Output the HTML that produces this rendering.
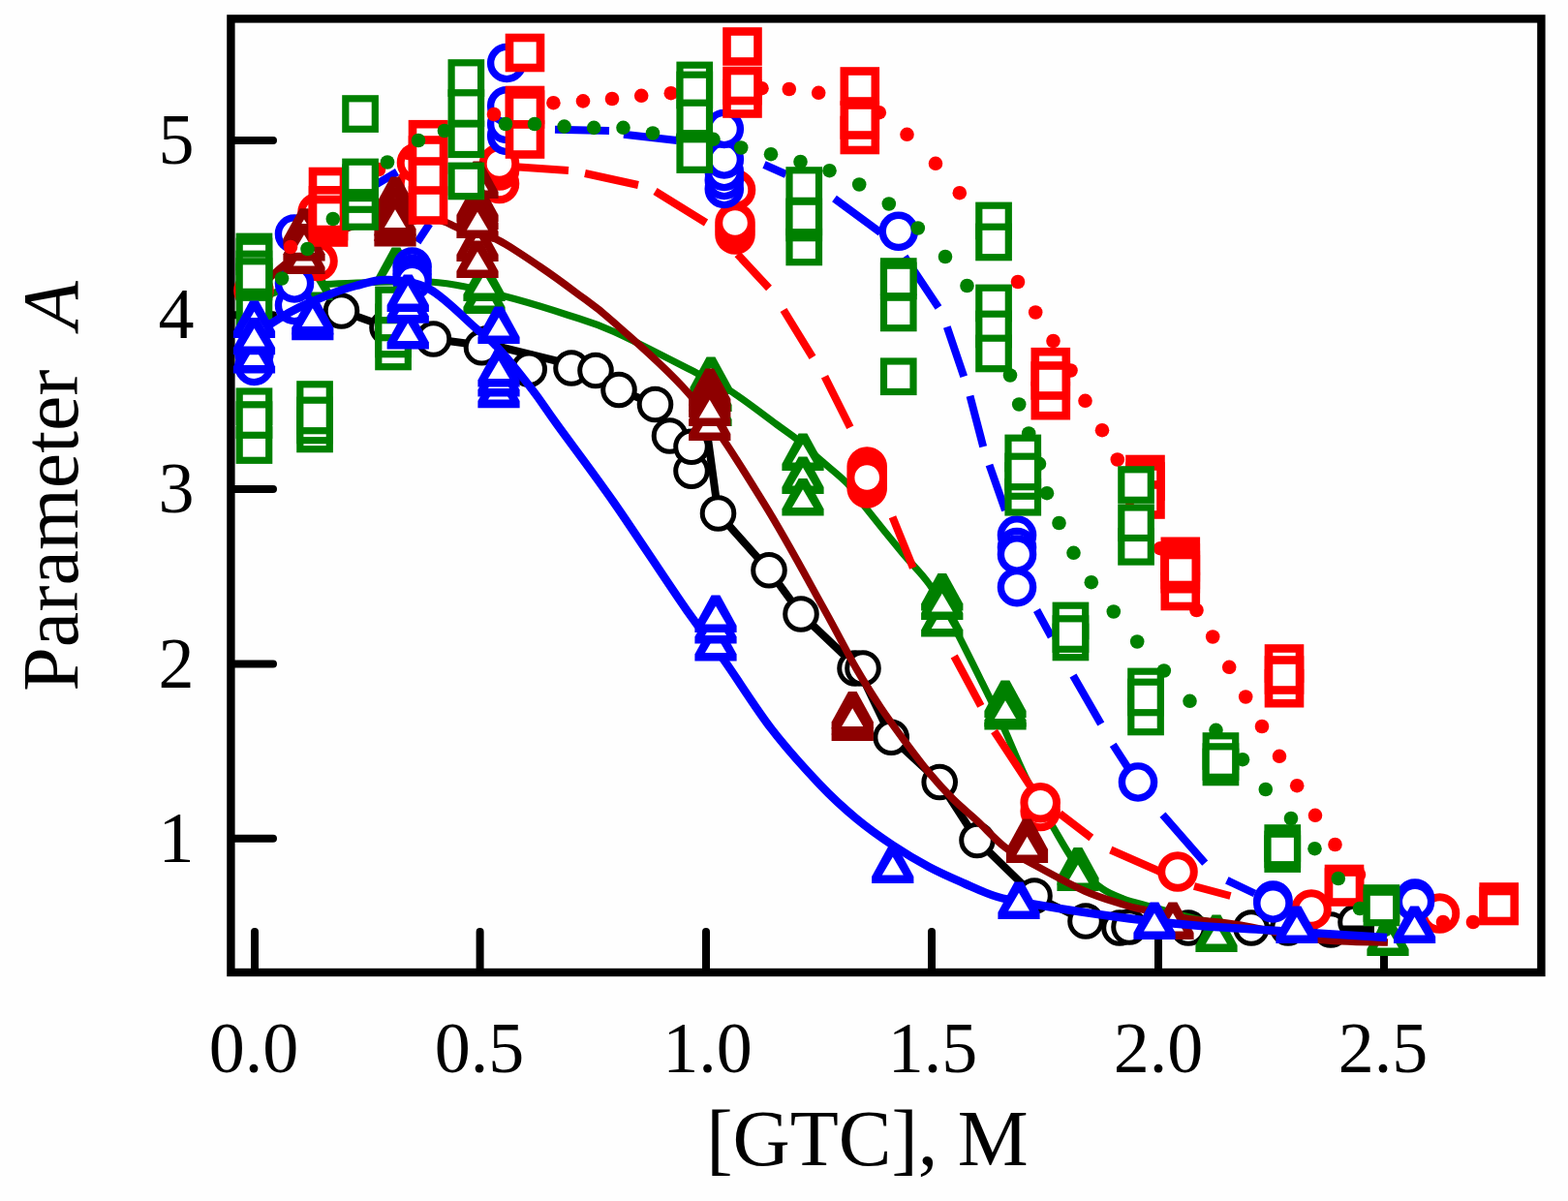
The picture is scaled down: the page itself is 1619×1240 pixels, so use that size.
<!DOCTYPE html>
<html lang="en">
<head>
<meta charset="utf-8">
<title>Parameter A vs [GTC]</title>
<style>
html,body{margin:0;padding:0;background:#fff;}
body{width:1619px;height:1240px;overflow:hidden;}
svg{display:block;}
text{font-family:"Liberation Serif","DejaVu Serif",serif;fill:#000;}
</style>
</head>
<body>
<svg width="1619" height="1240" viewBox="0 0 1619 1240">
<rect x="0" y="0" width="1619" height="1240" fill="#fefefe"/>
<g id="axes" fill="none" stroke="#000" stroke-width="8.4">
<rect x="238.4" y="19.4" width="1353" height="984.6"/>
<path d="M242 145H282M242 325.2H282M242 505H282M242 685.5H282M242 865.7H282M263 1004V962M495.6 1004V962M729 1004V962M962 1004V962M1196 1004V962M1429 1004V962" stroke-linecap="round" stroke-width="8"/>
</g>
<g id="s-black">
<polyline points="352.5,321 400,338 447.5,350 500,357 515,358 615,382.5 639,402.5 676.5,417.5 691.5,450 714,461 714,486 729.5,442 741.5,530 794,588.8 827,634 886,690 920.2,761.2 970.2,807.5 1009,867.5 1068,925 1121,951 1163,956 1227,958 1292,958 1374,960 1418,960" fill="none" stroke="#000000" stroke-width="8" stroke-linejoin="round"/>
<circle cx="352.5" cy="321" r="16.3" fill="#fff" stroke="#000000" stroke-width="5"/>
<circle cx="400" cy="338" r="16.3" fill="#fff" stroke="#000000" stroke-width="5"/>
<circle cx="447.5" cy="350" r="16.3" fill="#fff" stroke="#000000" stroke-width="5"/>
<circle cx="502" cy="355" r="16.3" fill="#fff" stroke="#000000" stroke-width="5"/>
<circle cx="497.5" cy="358.8" r="16.3" fill="#fff" stroke="#000000" stroke-width="5"/>
<circle cx="546.2" cy="381.2" r="16.3" fill="#fff" stroke="#000000" stroke-width="5"/>
<circle cx="590" cy="380" r="16.3" fill="#fff" stroke="#000000" stroke-width="5"/>
<circle cx="615" cy="382.5" r="16.3" fill="#fff" stroke="#000000" stroke-width="5"/>
<circle cx="639" cy="402.5" r="16.3" fill="#fff" stroke="#000000" stroke-width="5"/>
<circle cx="676.5" cy="417.5" r="16.3" fill="#fff" stroke="#000000" stroke-width="5"/>
<circle cx="691.5" cy="450" r="16.3" fill="#fff" stroke="#000000" stroke-width="5"/>
<circle cx="714" cy="486.2" r="16.3" fill="#fff" stroke="#000000" stroke-width="5"/>
<circle cx="714" cy="461.2" r="16.3" fill="#fff" stroke="#000000" stroke-width="5"/>
<circle cx="741.5" cy="530" r="16.3" fill="#fff" stroke="#000000" stroke-width="5"/>
<circle cx="794" cy="588.8" r="16.3" fill="#fff" stroke="#000000" stroke-width="5"/>
<circle cx="827" cy="634" r="16.3" fill="#fff" stroke="#000000" stroke-width="5"/>
<circle cx="883" cy="690" r="16.3" fill="#fff" stroke="#000000" stroke-width="5"/>
<circle cx="920.2" cy="761.2" r="16.3" fill="#fff" stroke="#000000" stroke-width="5"/>
<circle cx="970.2" cy="807.5" r="16.3" fill="#fff" stroke="#000000" stroke-width="5"/>
<circle cx="1009" cy="867.5" r="16.3" fill="#fff" stroke="#000000" stroke-width="5"/>
<circle cx="1068" cy="925" r="16.3" fill="#fff" stroke="#000000" stroke-width="5"/>
<circle cx="1121" cy="951" r="16.3" fill="#fff" stroke="#000000" stroke-width="5"/>
<circle cx="1156" cy="958" r="16.3" fill="#fff" stroke="#000000" stroke-width="5"/>
<circle cx="1227" cy="958" r="16.3" fill="#fff" stroke="#000000" stroke-width="5"/>
<circle cx="1292" cy="958" r="16.3" fill="#fff" stroke="#000000" stroke-width="5"/>
<circle cx="1330" cy="958" r="16.3" fill="#fff" stroke="#000000" stroke-width="5"/>
<circle cx="1374" cy="960" r="16.3" fill="#fff" stroke="#000000" stroke-width="5"/>
<circle cx="1400" cy="952" r="16.3" fill="#fff" stroke="#000000" stroke-width="5"/>
<circle cx="891" cy="690" r="16.3" fill="#fff" stroke="#000000" stroke-width="5"/>
<circle cx="1166" cy="957" r="16.3" fill="#fff" stroke="#000000" stroke-width="5"/>
<path d="M1386 959.5H1419" stroke="#000" stroke-width="8" fill="none"/>
</g>
<g id="s-greentri">
<path d="M263 312C267.5 310 278.8 303 290 300C301.2 297 310.8 295.5 330 294C349.2 292.5 386 291.5 405 291C424 290.5 431.2 290.2 443.8 291C456.2 291.8 465.3 293 480 296C494.7 299 514.2 303.9 532 308.8C549.8 313.7 570 319.9 587 325.5C604 331.1 612 332.6 634 342.5C656 352.4 699 374.8 719 385C739 395.2 740.2 394.7 754 403.5C767.8 412.3 789.6 429.2 801.6 438C813.6 446.8 818.2 449.7 826 456C833.8 462.3 840.2 468.8 848.4 476C856.6 483.2 867.6 491.5 875 499.3C882.4 507.1 883.5 511.1 892.9 523C902.3 534.9 920.5 557.4 931.5 570.6C942.5 583.9 950.2 590.1 959 602.5C967.8 614.9 973.2 624.6 984 645C994.8 665.4 1015 706.7 1024 725C1033 743.3 1032.2 742.1 1038 755C1043.8 767.9 1050.7 785.8 1059 802.5C1067.3 819.2 1079 839.6 1088 855C1097 870.4 1104.7 884.6 1113 895C1121.3 905.4 1130.2 912 1138 917.5C1145.8 923 1151.7 924.9 1160 928C1168.3 931.1 1173 932 1188 936C1203 940 1228 947.7 1250 952C1272 956.3 1289.5 958.7 1320 962C1350.5 965.3 1414.2 970.3 1433 972" fill="none" stroke="#008000" stroke-width="7.2" stroke-linecap="butt" stroke-linejoin="round"/>
<polygon points="300.4,310 343.6,310 343.6,302.9 326.4,271.6 317.6,271.6 300.4,302.9" fill="#008000"/><polygon points="311,301.4 333,301.4 322,282.8" fill="#fff"/>
<polygon points="387.4,294 430.6,294 430.6,286.9 413.4,255.6 404.6,255.6 387.4,286.9" fill="#008000"/><polygon points="398,285.4 420,285.4 409,266.8" fill="#fff"/>
<polygon points="478.4,324 521.6,324 521.6,316.9 504.4,285.6 495.6,285.6 478.4,316.9" fill="#008000"/><polygon points="489,315.4 511,315.4 500,296.8" fill="#fff"/>
<polygon points="478.4,311 521.6,311 521.6,303.9 504.4,272.6 495.6,272.6 478.4,303.9" fill="#008000"/><polygon points="489,302.4 511,302.4 500,283.8" fill="#fff"/>
<polygon points="712.4,407 755.6,407 755.6,399.9 738.4,368.6 729.6,368.6 712.4,399.9" fill="#008000"/><polygon points="723,398.4 745,398.4 734,379.8" fill="#fff"/>
<polygon points="712.4,425 755.6,425 755.6,417.9 738.4,386.6 729.6,386.6 712.4,417.9" fill="#008000"/><polygon points="723,416.4 745,416.4 734,397.8" fill="#fff"/>
<polygon points="712.4,440 755.6,440 755.6,432.9 738.4,401.6 729.6,401.6 712.4,432.9" fill="#008000"/><polygon points="723,431.4 745,431.4 734,412.8" fill="#fff"/>
<polygon points="807.4,486 850.6,486 850.6,478.9 833.4,447.6 824.6,447.6 807.4,478.9" fill="#008000"/><polygon points="818,477.4 840,477.4 829,458.8" fill="#fff"/>
<polygon points="807.4,510 850.6,510 850.6,502.9 833.4,471.6 824.6,471.6 807.4,502.9" fill="#008000"/><polygon points="818,501.4 840,501.4 829,482.8" fill="#fff"/>
<polygon points="807.4,532.5 850.6,532.5 850.6,525.4 833.4,494.1 824.6,494.1 807.4,525.4" fill="#008000"/><polygon points="818,523.9 840,523.9 829,505.3" fill="#fff"/>
<polygon points="951.1,657.5 994.4,657.5 994.4,650.4 977.1,619.1 968.4,619.1 951.1,650.4" fill="#008000"/><polygon points="961.8,648.9 983.8,648.9 972.8,630.3" fill="#fff"/>
<polygon points="951.1,630.5 994.4,630.5 994.4,623.4 977.1,592.1 968.4,592.1 951.1,623.4" fill="#008000"/><polygon points="961.8,621.9 983.8,621.9 972.8,603.3" fill="#fff"/>
<polygon points="951.1,640 994.4,640 994.4,632.9 977.1,601.6 968.4,601.6 951.1,632.9" fill="#008000"/><polygon points="961.8,631.4 983.8,631.4 972.8,612.8" fill="#fff"/>
<polygon points="1016.4,753.6 1059.6,753.6 1059.6,746.5 1042.4,715.2 1033.6,715.2 1016.4,746.5" fill="#008000"/><polygon points="1027,745 1049,745 1038,726.4" fill="#fff"/>
<polygon points="1016.4,741 1059.6,741 1059.6,733.9 1042.4,702.6 1033.6,702.6 1016.4,733.9" fill="#008000"/><polygon points="1027,732.4 1049,732.4 1038,713.8" fill="#fff"/>
<polygon points="1016.4,750.5 1059.6,750.5 1059.6,743.4 1042.4,712.1 1033.6,712.1 1016.4,743.4" fill="#008000"/><polygon points="1027,741.9 1049,741.9 1038,723.3" fill="#fff"/>
<polygon points="1091.4,913.5 1134.6,913.5 1134.6,906.4 1117.4,875.1 1108.6,875.1 1091.4,906.4" fill="#008000"/><polygon points="1102,904.9 1124,904.9 1113,886.3" fill="#fff"/>
<polygon points="1091.4,920 1134.6,920 1134.6,912.9 1117.4,881.6 1108.6,881.6 1091.4,912.9" fill="#008000"/><polygon points="1102,911.4 1124,911.4 1113,892.8" fill="#fff"/>
<polygon points="1234.4,983 1277.6,983 1277.6,975.9 1260.4,944.6 1251.6,944.6 1234.4,975.9" fill="#008000"/><polygon points="1245,974.4 1267,974.4 1256,955.8" fill="#fff"/>
<polygon points="1411.4,987 1454.6,987 1454.6,979.9 1437.4,948.6 1428.6,948.6 1411.4,979.9" fill="#008000"/><polygon points="1422,978.4 1444,978.4 1433,959.8" fill="#fff"/>
</g>
<g id="s-redcirc">
<path d="M535.8 172.5L587 176M604 179L659 191M676.5 197.5L729 230M761.5 262.5L794 297.5M809 320L839 368.8M851.5 388.8L877.8 441.2M921.5 533.8L942.8 586.2M985.2 677.5L1012.8 728.8M1026.5 755L1068 818M1094.2 840L1126.8 865M1146.8 877.5L1198 900M1233 915L1270.5 925" fill="none" stroke="#ff0000" stroke-width="8" stroke-linecap="butt"/>
<circle cx="262" cy="300" r="16.8" fill="#fff" stroke="#ff0000" stroke-width="8"/>
<circle cx="328" cy="219.5" r="16.8" fill="#fff" stroke="#ff0000" stroke-width="8"/>
<circle cx="328" cy="269.5" r="16.8" fill="#fff" stroke="#ff0000" stroke-width="8"/>
<circle cx="430.5" cy="190" r="16.8" fill="#fff" stroke="#ff0000" stroke-width="8"/>
<circle cx="430.5" cy="168" r="16.8" fill="#fff" stroke="#ff0000" stroke-width="8"/>
<circle cx="515.5" cy="189.5" r="16.8" fill="#fff" stroke="#ff0000" stroke-width="8"/>
<circle cx="515.5" cy="176" r="16.8" fill="#fff" stroke="#ff0000" stroke-width="8"/>
<circle cx="515.5" cy="169" r="16.8" fill="#fff" stroke="#ff0000" stroke-width="8"/>
<circle cx="759.5" cy="196" r="16.8" fill="#fff" stroke="#ff0000" stroke-width="8"/>
<circle cx="759" cy="242" r="16.8" fill="#fff" stroke="#ff0000" stroke-width="8"/>
<circle cx="759" cy="236" r="16.8" fill="#fff" stroke="#ff0000" stroke-width="8"/>
<circle cx="759" cy="230" r="16.8" fill="#fff" stroke="#ff0000" stroke-width="8"/>
<circle cx="895.2" cy="482" r="16.8" fill="#fff" stroke="#ff0000" stroke-width="8"/>
<circle cx="895.2" cy="504" r="16.8" fill="#fff" stroke="#ff0000" stroke-width="8"/>
<circle cx="895.2" cy="487.5" r="16.8" fill="#fff" stroke="#ff0000" stroke-width="8"/>
<circle cx="895.2" cy="498.5" r="16.8" fill="#fff" stroke="#ff0000" stroke-width="8"/>
<circle cx="895.2" cy="493" r="16.8" fill="#fff" stroke="#ff0000" stroke-width="8"/>
<circle cx="1074.2" cy="837.5" r="16.8" fill="#fff" stroke="#ff0000" stroke-width="8"/>
<circle cx="1074.2" cy="828.8" r="16.8" fill="#fff" stroke="#ff0000" stroke-width="8"/>
<circle cx="1216" cy="900" r="16.8" fill="#fff" stroke="#ff0000" stroke-width="8"/>
<circle cx="1354" cy="939" r="16.8" fill="#fff" stroke="#ff0000" stroke-width="8"/>
<circle cx="1486.5" cy="943" r="16.8" fill="#fff" stroke="#ff0000" stroke-width="8"/>
</g>
<g id="s-bluecirc">
<path d="M389 190L410 177.5M431 250L443.5 231M573 133.8L629 135M644 138.8L699 145M789 170L811.5 180M861.5 205L909 240M934 265L969 317.5M977.8 337.5L995.2 388.8M1001.5 408.8L1015.2 461.2M1021.5 480L1038 527M1070.5 630L1085.5 657.5M1108 697.5L1136.8 747.5M1149.2 768.8L1170 801M1200.5 841.2L1244.2 891.2M1266.8 908.8L1295.5 922.5" fill="none" stroke="#0000ff" stroke-width="8" stroke-linecap="butt"/>
<circle cx="262.5" cy="365" r="16.6" fill="#fff" stroke="#0000ff" stroke-width="7.4"/>
<circle cx="262.5" cy="378" r="16.6" fill="#fff" stroke="#0000ff" stroke-width="7.4"/>
<circle cx="304" cy="315" r="16.6" fill="#fff" stroke="#0000ff" stroke-width="7.4"/>
<circle cx="304" cy="241.5" r="16.6" fill="#fff" stroke="#0000ff" stroke-width="7.4"/>
<circle cx="304" cy="292.5" r="16.6" fill="#fff" stroke="#0000ff" stroke-width="7.4"/>
<circle cx="425.6" cy="275.6" r="16.6" fill="#fff" stroke="#0000ff" stroke-width="7.4"/>
<circle cx="425.6" cy="283" r="16.6" fill="#fff" stroke="#0000ff" stroke-width="7.4"/>
<circle cx="425.6" cy="290" r="16.6" fill="#fff" stroke="#0000ff" stroke-width="7.4"/>
<circle cx="523.2" cy="140" r="16.6" fill="#fff" stroke="#0000ff" stroke-width="7.4"/>
<circle cx="523.2" cy="128" r="16.6" fill="#fff" stroke="#0000ff" stroke-width="7.4"/>
<circle cx="523.2" cy="109.4" r="16.6" fill="#fff" stroke="#0000ff" stroke-width="7.4"/>
<circle cx="523.2" cy="65" r="16.6" fill="#fff" stroke="#0000ff" stroke-width="7.4"/>
<circle cx="747.8" cy="195" r="16.6" fill="#fff" stroke="#0000ff" stroke-width="7.4"/>
<circle cx="747.8" cy="186" r="16.6" fill="#fff" stroke="#0000ff" stroke-width="7.4"/>
<circle cx="747.8" cy="177" r="16.6" fill="#fff" stroke="#0000ff" stroke-width="7.4"/>
<circle cx="747.8" cy="164.5" r="16.6" fill="#fff" stroke="#0000ff" stroke-width="7.4"/>
<circle cx="747.8" cy="133" r="16.6" fill="#fff" stroke="#0000ff" stroke-width="7.4"/>
<circle cx="927.8" cy="238.8" r="16.6" fill="#fff" stroke="#0000ff" stroke-width="7.4"/>
<circle cx="1050" cy="552.5" r="16.6" fill="#fff" stroke="#0000ff" stroke-width="7.4"/>
<circle cx="1050" cy="565" r="16.6" fill="#fff" stroke="#0000ff" stroke-width="7.4"/>
<circle cx="1050" cy="606.2" r="16.6" fill="#fff" stroke="#0000ff" stroke-width="7.4"/>
<circle cx="1050" cy="572.5" r="16.6" fill="#fff" stroke="#0000ff" stroke-width="7.4"/>
<circle cx="1175" cy="807.5" r="16.6" fill="#fff" stroke="#0000ff" stroke-width="7.4"/>
<circle cx="1314.4" cy="929.5" r="16.6" fill="#fff" stroke="#0000ff" stroke-width="7.4"/>
<circle cx="1314.4" cy="932.5" r="16.6" fill="#fff" stroke="#0000ff" stroke-width="7.4"/>
<circle cx="1461" cy="927.5" r="16.6" fill="#fff" stroke="#0000ff" stroke-width="7.4"/>
<circle cx="1461" cy="931" r="16.6" fill="#fff" stroke="#0000ff" stroke-width="7.4"/>
</g>
<g id="s-dredtri">
<path d="M263 303C267.2 298.8 279.5 285.5 288 278C296.5 270.5 305.3 263.8 314 258C322.7 252.2 330.3 247.5 340 243C349.7 238.5 360.7 234.2 372 231C383.3 227.8 396.3 225.2 408 224C419.7 222.8 433.5 223.2 442 224C450.5 224.8 454 227.2 459 229C464 230.8 466.3 232.7 472 235C477.7 237.3 485.9 240.8 493 243C500.1 245.2 503.8 242.7 514.5 248C525.2 253.3 543.7 266 557 275C570.3 284 581.7 292.3 594.5 302C607.3 311.7 613.7 314.6 634 333C654.3 351.4 690.7 381.3 716.5 412.5C742.3 443.7 766.5 483.8 789 520C811.5 556.2 835.7 601.7 851.5 630C867.3 658.3 874.4 673.3 884 690C893.6 706.7 900.7 717.5 909 730C917.3 742.5 925.7 753.8 934 765C942.3 776.2 950.7 787.5 959 797.5C967.3 807.5 975.7 816.7 984 825C992.3 833.3 1000 839.2 1009 847.5C1018 855.8 1027.8 867.2 1038 875C1048.2 882.8 1056.3 886.5 1070 894C1083.7 901.5 1105 913.3 1120 920C1135 926.7 1150 930.8 1160 934C1170 937.2 1168.3 936.5 1180 939C1191.7 941.5 1213.3 946.3 1230 949C1246.7 951.7 1258.3 951.5 1280 955C1301.7 958.5 1334.5 967 1360 970C1385.5 973 1420.8 972.5 1433 973" fill="none" stroke="#8e0000" stroke-width="7.6" stroke-linecap="butt" stroke-linejoin="round"/>
<polygon points="292.4,283 335.6,283 335.6,275.9 318.4,244.6 309.6,244.6 292.4,275.9" fill="#8e0000"/><polygon points="303,274.4 325,274.4 314,255.8" fill="#fff"/>
<polygon points="292.4,253.7 335.6,253.7 335.6,246.6 318.4,215.3 309.6,215.3 292.4,246.6" fill="#8e0000"/><polygon points="303,245.1 325,245.1 314,226.5" fill="#fff"/>
<polygon points="292.4,269.4 335.6,269.4 335.6,262.3 318.4,231 309.6,231 292.4,262.3" fill="#8e0000"/><polygon points="303,260.8 325,260.8 314,242.2" fill="#fff"/>
<polygon points="386.4,221 429.6,221 429.6,213.9 412.4,182.6 403.6,182.6 386.4,213.9" fill="#8e0000"/><polygon points="397,212.4 419,212.4 408,193.8" fill="#fff"/>
<polygon points="386.4,232 429.6,232 429.6,224.9 412.4,193.6 403.6,193.6 386.4,224.9" fill="#8e0000"/><polygon points="397,223.4 419,223.4 408,204.8" fill="#fff"/>
<polygon points="386.4,254.5 429.6,254.5 429.6,247.4 412.4,216.1 403.6,216.1 386.4,247.4" fill="#8e0000"/><polygon points="397,245.9 419,245.9 408,227.3" fill="#fff"/>
<polygon points="386.4,249 429.6,249 429.6,241.9 412.4,210.6 403.6,210.6 386.4,241.9" fill="#8e0000"/><polygon points="397,240.4 419,240.4 408,221.8" fill="#fff"/>
<polygon points="386.4,243.5 429.6,243.5 429.6,236.4 412.4,205.1 403.6,205.1 386.4,236.4" fill="#8e0000"/><polygon points="397,234.9 419,234.9 408,216.3" fill="#fff"/>
<polygon points="471.4,205 514.6,205 514.6,197.9 497.4,166.6 488.6,166.6 471.4,197.9" fill="#8e0000"/><polygon points="482,196.4 504,196.4 493,177.8" fill="#fff"/>
<polygon points="471.4,270 514.6,270 514.6,262.9 497.4,231.6 488.6,231.6 471.4,262.9" fill="#8e0000"/><polygon points="482,261.4 504,261.4 493,242.8" fill="#fff"/>
<polygon points="471.4,287 514.6,287 514.6,279.9 497.4,248.6 488.6,248.6 471.4,279.9" fill="#8e0000"/><polygon points="482,278.4 504,278.4 493,259.8" fill="#fff"/>
<polygon points="471.4,229 514.6,229 514.6,221.9 497.4,190.6 488.6,190.6 471.4,221.9" fill="#8e0000"/><polygon points="482,220.4 504,220.4 493,201.8" fill="#fff"/>
<polygon points="471.4,237 514.6,237 514.6,229.9 497.4,198.6 488.6,198.6 471.4,229.9" fill="#8e0000"/><polygon points="482,228.4 504,228.4 493,209.8" fill="#fff"/>
<polygon points="471.4,246 514.6,246 514.6,238.9 497.4,207.6 488.6,207.6 471.4,238.9" fill="#8e0000"/><polygon points="482,237.4 504,237.4 493,218.8" fill="#fff"/>
<polygon points="711.1,419 754.4,419 754.4,411.9 737.1,380.6 728.4,380.6 711.1,411.9" fill="#8e0000"/><polygon points="721.8,410.4 743.8,410.4 732.8,391.8" fill="#fff"/>
<polygon points="711.1,425 754.4,425 754.4,417.9 737.1,386.6 728.4,386.6 711.1,417.9" fill="#8e0000"/><polygon points="721.8,416.4 743.8,416.4 732.8,397.8" fill="#fff"/>
<polygon points="711.1,431 754.4,431 754.4,423.9 737.1,392.6 728.4,392.6 711.1,423.9" fill="#8e0000"/><polygon points="721.8,422.4 743.8,422.4 732.8,403.8" fill="#fff"/>
<polygon points="711.1,455 754.4,455 754.4,447.9 737.1,416.6 728.4,416.6 711.1,447.9" fill="#8e0000"/><polygon points="721.8,446.4 743.8,446.4 732.8,427.8" fill="#fff"/>
<polygon points="711.1,440 754.4,440 754.4,432.9 737.1,401.6 728.4,401.6 711.1,432.9" fill="#8e0000"/><polygon points="721.8,431.4 743.8,431.4 732.8,412.8" fill="#fff"/>
<polygon points="858.6,752.5 901.9,752.5 901.9,745.4 884.6,714.1 875.9,714.1 858.6,745.4" fill="#8e0000"/><polygon points="869.2,743.9 891.2,743.9 880.2,725.3" fill="#fff"/>
<polygon points="858.6,765 901.9,765 901.9,757.9 884.6,726.6 875.9,726.6 858.6,757.9" fill="#8e0000"/><polygon points="869.2,756.4 891.2,756.4 880.2,737.8" fill="#fff"/>
<polygon points="858.6,758.5 901.9,758.5 901.9,751.4 884.6,720.1 875.9,720.1 858.6,751.4" fill="#8e0000"/><polygon points="869.2,749.9 891.2,749.9 880.2,731.3" fill="#fff"/>
<polygon points="1038.9,884 1082.1,884 1082.1,876.9 1064.9,845.6 1056.1,845.6 1038.9,876.9" fill="#8e0000"/><polygon points="1049.5,875.4 1071.5,875.4 1060.5,856.8" fill="#fff"/>
<polygon points="1038.9,891 1082.1,891 1082.1,883.9 1064.9,852.6 1056.1,852.6 1038.9,883.9" fill="#8e0000"/><polygon points="1049.5,882.4 1071.5,882.4 1060.5,863.8" fill="#fff"/>
<polygon points="1189.4,970 1232.6,970 1232.6,962.9 1215.4,931.6 1206.6,931.6 1189.4,962.9" fill="#8e0000"/><polygon points="1200,961.4 1222,961.4 1211,942.8" fill="#fff"/>
</g>
<g id="s-redsq">
<circle cx="300" cy="255" r="7.3" fill="#ff0000"/>
<circle cx="330" cy="224.5" r="7.3" fill="#ff0000"/>
<circle cx="360.5" cy="197" r="7.3" fill="#ff0000"/>
<circle cx="391" cy="175" r="7.3" fill="#ff0000"/>
<circle cx="421.5" cy="158" r="7.3" fill="#ff0000"/>
<circle cx="452" cy="142" r="7.3" fill="#ff0000"/>
<circle cx="482.5" cy="128" r="7.3" fill="#ff0000"/>
<circle cx="510" cy="118" r="7.3" fill="#ff0000"/>
<circle cx="540.6" cy="112" r="7.3" fill="#ff0000"/>
<circle cx="571.4" cy="106.2" r="7.3" fill="#ff0000"/>
<circle cx="602" cy="104.4" r="7.3" fill="#ff0000"/>
<circle cx="632" cy="102" r="7.3" fill="#ff0000"/>
<circle cx="662.2" cy="98.8" r="7.3" fill="#ff0000"/>
<circle cx="692.8" cy="96.2" r="7.3" fill="#ff0000"/>
<circle cx="723" cy="94" r="7.3" fill="#ff0000"/>
<circle cx="754" cy="92" r="7.3" fill="#ff0000"/>
<circle cx="786.5" cy="91.2" r="7.3" fill="#ff0000"/>
<circle cx="814.8" cy="92" r="7.3" fill="#ff0000"/>
<circle cx="845.2" cy="95.8" r="7.3" fill="#ff0000"/>
<circle cx="876" cy="103" r="7.3" fill="#ff0000"/>
<circle cx="907.8" cy="116.2" r="7.3" fill="#ff0000"/>
<circle cx="936.5" cy="138.8" r="7.3" fill="#ff0000"/>
<circle cx="966" cy="168.8" r="7.3" fill="#ff0000"/>
<circle cx="990.8" cy="199.2" r="7.3" fill="#ff0000"/>
<circle cx="1016" cy="230" r="7.3" fill="#ff0000"/>
<circle cx="1034" cy="260.5" r="7.3" fill="#ff0000"/>
<circle cx="1051" cy="291" r="7.3" fill="#ff0000"/>
<circle cx="1069.2" cy="322.5" r="7.3" fill="#ff0000"/>
<circle cx="1087.5" cy="352" r="7.3" fill="#ff0000"/>
<circle cx="1105.5" cy="382.5" r="7.3" fill="#ff0000"/>
<circle cx="1120.5" cy="413.8" r="7.3" fill="#ff0000"/>
<circle cx="1138" cy="444.2" r="7.3" fill="#ff0000"/>
<circle cx="1153.8" cy="474.5" r="7.3" fill="#ff0000"/>
<circle cx="1168" cy="505" r="7.3" fill="#ff0000"/>
<circle cx="1183" cy="535.5" r="7.3" fill="#ff0000"/>
<circle cx="1198" cy="566.2" r="7.3" fill="#ff0000"/>
<circle cx="1216" cy="597" r="7.3" fill="#ff0000"/>
<circle cx="1235.5" cy="630" r="7.3" fill="#ff0000"/>
<circle cx="1252.2" cy="657.5" r="7.3" fill="#ff0000"/>
<circle cx="1269.2" cy="688.8" r="7.3" fill="#ff0000"/>
<circle cx="1286.2" cy="719.5" r="7.3" fill="#ff0000"/>
<circle cx="1303" cy="750" r="7.3" fill="#ff0000"/>
<circle cx="1321" cy="780.8" r="7.3" fill="#ff0000"/>
<circle cx="1339.2" cy="811.2" r="7.3" fill="#ff0000"/>
<circle cx="1358" cy="841.8" r="7.3" fill="#ff0000"/>
<circle cx="1378.5" cy="872" r="7.3" fill="#ff0000"/>
<circle cx="1403" cy="903" r="7.3" fill="#ff0000"/>
<circle cx="1431" cy="930" r="7.3" fill="#ff0000"/>
<circle cx="1461" cy="945" r="7.3" fill="#ff0000"/>
<circle cx="1490" cy="952" r="7.3" fill="#ff0000"/>
<circle cx="1521" cy="952" r="7.3" fill="#ff0000"/>
<rect x="323" y="177" width="32" height="31" fill="#fff" stroke="#ff0000" stroke-width="8.6"/>
<rect x="323" y="196.3" width="32" height="31" fill="#fff" stroke="#ff0000" stroke-width="8.6"/>
<rect x="323" y="219.5" width="32" height="31" fill="#fff" stroke="#ff0000" stroke-width="8.6"/>
<rect x="323" y="213.1" width="32" height="31" fill="#fff" stroke="#ff0000" stroke-width="8.6"/>
<rect x="323" y="206" width="32" height="31" fill="#fff" stroke="#ff0000" stroke-width="8.6"/>
<rect x="426" y="128.2" width="32" height="31" fill="#fff" stroke="#ff0000" stroke-width="8.6"/>
<rect x="426" y="144.5" width="32" height="31" fill="#fff" stroke="#ff0000" stroke-width="8.6"/>
<rect x="426" y="166.5" width="32" height="31" fill="#fff" stroke="#ff0000" stroke-width="8.6"/>
<rect x="426" y="196.5" width="32" height="31" fill="#fff" stroke="#ff0000" stroke-width="8.6"/>
<rect x="526" y="39" width="32" height="31" fill="#fff" stroke="#ff0000" stroke-width="8.6"/>
<rect x="526" y="93" width="32" height="31" fill="#fff" stroke="#ff0000" stroke-width="8.6"/>
<rect x="526" y="97.5" width="32" height="31" fill="#fff" stroke="#ff0000" stroke-width="8.6"/>
<rect x="526" y="128.5" width="32" height="31" fill="#fff" stroke="#ff0000" stroke-width="8.6"/>
<rect x="750.5" y="32.5" width="32" height="31" fill="#fff" stroke="#ff0000" stroke-width="8.6"/>
<rect x="750.5" y="86.5" width="32" height="31" fill="#fff" stroke="#ff0000" stroke-width="8.6"/>
<rect x="750.5" y="73" width="32" height="31" fill="#fff" stroke="#ff0000" stroke-width="8.6"/>
<rect x="871.8" y="73.5" width="32" height="31" fill="#fff" stroke="#ff0000" stroke-width="8.6"/>
<rect x="871.8" y="124" width="32" height="31" fill="#fff" stroke="#ff0000" stroke-width="8.6"/>
<rect x="871.8" y="108.5" width="32" height="31" fill="#fff" stroke="#ff0000" stroke-width="8.6"/>
<rect x="1068.8" y="363.2" width="32" height="31" fill="#fff" stroke="#ff0000" stroke-width="8.6"/>
<rect x="1068.8" y="398.2" width="32" height="31" fill="#fff" stroke="#ff0000" stroke-width="8.6"/>
<rect x="1068.8" y="377.5" width="32" height="31" fill="#fff" stroke="#ff0000" stroke-width="8.6"/>
<rect x="1166.5" y="474" width="32" height="31" fill="#fff" stroke="#ff0000" stroke-width="8.6"/>
<rect x="1166.5" y="481.5" width="32" height="31" fill="#fff" stroke="#ff0000" stroke-width="8.6"/>
<rect x="1166.5" y="500.5" width="32" height="31" fill="#fff" stroke="#ff0000" stroke-width="8.6"/>
<rect x="1202.8" y="558.8" width="32" height="31" fill="#fff" stroke="#ff0000" stroke-width="8.6"/>
<rect x="1202.8" y="565.5" width="32" height="31" fill="#fff" stroke="#ff0000" stroke-width="8.6"/>
<rect x="1202.8" y="595" width="32" height="31" fill="#fff" stroke="#ff0000" stroke-width="8.6"/>
<rect x="1202.8" y="577.2" width="32" height="31" fill="#fff" stroke="#ff0000" stroke-width="8.6"/>
<rect x="1202.8" y="573" width="32" height="31" fill="#fff" stroke="#ff0000" stroke-width="8.6"/>
<rect x="1310" y="669.5" width="32" height="31" fill="#fff" stroke="#ff0000" stroke-width="8.6"/>
<rect x="1310" y="695.2" width="32" height="31" fill="#fff" stroke="#ff0000" stroke-width="8.6"/>
<rect x="1310" y="681.5" width="32" height="31" fill="#fff" stroke="#ff0000" stroke-width="8.6"/>
<rect x="1372" y="897" width="32" height="31" fill="#fff" stroke="#ff0000" stroke-width="8.6"/>
<rect x="1372" y="900.5" width="32" height="31" fill="#fff" stroke="#ff0000" stroke-width="8.6"/>
<rect x="1531.7" y="915.5" width="32" height="31" fill="#fff" stroke="#ff0000" stroke-width="8.6"/>
<rect x="1531.7" y="920" width="32" height="31" fill="#fff" stroke="#ff0000" stroke-width="8.6"/>
</g>
<g id="s-greensq">
<circle cx="265" cy="318" r="7.3" fill="#008000"/>
<circle cx="291" cy="287.5" r="7.3" fill="#008000"/>
<circle cx="317.5" cy="257" r="7.3" fill="#008000"/>
<circle cx="343.8" cy="226" r="7.3" fill="#008000"/>
<circle cx="372" cy="195.5" r="7.3" fill="#008000"/>
<circle cx="400" cy="167.5" r="7.3" fill="#008000"/>
<circle cx="432" cy="145" r="7.3" fill="#008000"/>
<circle cx="458.9" cy="135" r="7.3" fill="#008000"/>
<circle cx="490" cy="131" r="7.3" fill="#008000"/>
<circle cx="522" cy="128" r="7.3" fill="#008000"/>
<circle cx="552" cy="128" r="7.3" fill="#008000"/>
<circle cx="582.6" cy="130.6" r="7.3" fill="#008000"/>
<circle cx="613.2" cy="131.9" r="7.3" fill="#008000"/>
<circle cx="643.5" cy="131.8" r="7.3" fill="#008000"/>
<circle cx="674" cy="137.5" r="7.3" fill="#008000"/>
<circle cx="705" cy="141" r="7.3" fill="#008000"/>
<circle cx="736.5" cy="143.8" r="7.3" fill="#008000"/>
<circle cx="765.2" cy="152.5" r="7.3" fill="#008000"/>
<circle cx="796" cy="159.2" r="7.3" fill="#008000"/>
<circle cx="826.5" cy="167" r="7.3" fill="#008000"/>
<circle cx="856.5" cy="176.2" r="7.3" fill="#008000"/>
<circle cx="887.2" cy="190.5" r="7.3" fill="#008000"/>
<circle cx="917.8" cy="210.5" r="7.3" fill="#008000"/>
<circle cx="947.8" cy="235.5" r="7.3" fill="#008000"/>
<circle cx="976" cy="265" r="7.3" fill="#008000"/>
<circle cx="998.5" cy="295" r="7.3" fill="#008000"/>
<circle cx="1016" cy="326" r="7.3" fill="#008000"/>
<circle cx="1031" cy="356.5" r="7.3" fill="#008000"/>
<circle cx="1043" cy="387.5" r="7.3" fill="#008000"/>
<circle cx="1052.2" cy="417.5" r="7.3" fill="#008000"/>
<circle cx="1062.2" cy="447.5" r="7.3" fill="#008000"/>
<circle cx="1073" cy="478.8" r="7.3" fill="#008000"/>
<circle cx="1081" cy="509.2" r="7.3" fill="#008000"/>
<circle cx="1093.5" cy="540" r="7.3" fill="#008000"/>
<circle cx="1108.5" cy="570.8" r="7.3" fill="#008000"/>
<circle cx="1126.8" cy="601.2" r="7.3" fill="#008000"/>
<circle cx="1149.8" cy="631.5" r="7.3" fill="#008000"/>
<circle cx="1174.2" cy="662.5" r="7.3" fill="#008000"/>
<circle cx="1201.8" cy="692.5" r="7.3" fill="#008000"/>
<circle cx="1228.5" cy="723.8" r="7.3" fill="#008000"/>
<circle cx="1255.5" cy="753.8" r="7.3" fill="#008000"/>
<circle cx="1283" cy="784.2" r="7.3" fill="#008000"/>
<circle cx="1306.8" cy="815" r="7.3" fill="#008000"/>
<circle cx="1333" cy="845" r="7.3" fill="#008000"/>
<circle cx="1357.5" cy="876.2" r="7.3" fill="#008000"/>
<circle cx="1381.8" cy="907" r="7.3" fill="#008000"/>
<circle cx="1404" cy="938" r="7.3" fill="#008000"/>
<circle cx="1430" cy="960" r="7.3" fill="#008000"/>
<rect x="247.2" y="244.2" width="30.5" height="31.5" fill="#fff" stroke="#008000" stroke-width="7.2"/>
<rect x="247.2" y="249.2" width="30.5" height="31.5" fill="#fff" stroke="#008000" stroke-width="7.2"/>
<rect x="247.2" y="262.2" width="30.5" height="31.5" fill="#fff" stroke="#008000" stroke-width="7.2"/>
<rect x="247.2" y="307.2" width="30.5" height="31.5" fill="#fff" stroke="#008000" stroke-width="7.2"/>
<rect x="247.2" y="275.2" width="30.5" height="31.5" fill="#fff" stroke="#008000" stroke-width="7.2"/>
<rect x="247.2" y="269.8" width="30.5" height="31.5" fill="#fff" stroke="#008000" stroke-width="7.2"/>
<rect x="247.2" y="404" width="30.5" height="31.5" fill="#fff" stroke="#008000" stroke-width="7.2"/>
<rect x="247.2" y="443.8" width="30.5" height="31.5" fill="#fff" stroke="#008000" stroke-width="7.2"/>
<rect x="247.2" y="417.8" width="30.5" height="31.5" fill="#fff" stroke="#008000" stroke-width="7.2"/>
<rect x="309.8" y="396.8" width="30.5" height="31.5" fill="#fff" stroke="#008000" stroke-width="7.2"/>
<rect x="309.8" y="432.2" width="30.5" height="31.5" fill="#fff" stroke="#008000" stroke-width="7.2"/>
<rect x="309.8" y="423.2" width="30.5" height="31.5" fill="#fff" stroke="#008000" stroke-width="7.2"/>
<rect x="309.8" y="413.2" width="30.5" height="31.5" fill="#fff" stroke="#008000" stroke-width="7.2"/>
<rect x="356.8" y="101.8" width="30.5" height="31.5" fill="#fff" stroke="#008000" stroke-width="7.2"/>
<rect x="356.8" y="202.7" width="30.5" height="31.5" fill="#fff" stroke="#008000" stroke-width="7.2"/>
<rect x="356.8" y="184.8" width="30.5" height="31.5" fill="#fff" stroke="#008000" stroke-width="7.2"/>
<rect x="356.8" y="173.1" width="30.5" height="31.5" fill="#fff" stroke="#008000" stroke-width="7.2"/>
<rect x="356.8" y="167.2" width="30.5" height="31.5" fill="#fff" stroke="#008000" stroke-width="7.2"/>
<rect x="390.8" y="347.2" width="30.5" height="31.5" fill="#fff" stroke="#008000" stroke-width="7.2"/>
<rect x="390.8" y="334.2" width="30.5" height="31.5" fill="#fff" stroke="#008000" stroke-width="7.2"/>
<rect x="390.8" y="317.2" width="30.5" height="31.5" fill="#fff" stroke="#008000" stroke-width="7.2"/>
<rect x="390.8" y="299.2" width="30.5" height="31.5" fill="#fff" stroke="#008000" stroke-width="7.2"/>
<rect x="466.1" y="64.8" width="30.5" height="31.5" fill="#fff" stroke="#008000" stroke-width="7.2"/>
<rect x="466.1" y="95.8" width="30.5" height="31.5" fill="#fff" stroke="#008000" stroke-width="7.2"/>
<rect x="466.1" y="128" width="30.5" height="31.5" fill="#fff" stroke="#008000" stroke-width="7.2"/>
<rect x="466.1" y="171.2" width="30.5" height="31.5" fill="#fff" stroke="#008000" stroke-width="7.2"/>
<rect x="702" y="67.2" width="30.5" height="31.5" fill="#fff" stroke="#008000" stroke-width="7.2"/>
<rect x="702" y="77.2" width="30.5" height="31.5" fill="#fff" stroke="#008000" stroke-width="7.2"/>
<rect x="702" y="106.2" width="30.5" height="31.5" fill="#fff" stroke="#008000" stroke-width="7.2"/>
<rect x="702" y="143.8" width="30.5" height="31.5" fill="#fff" stroke="#008000" stroke-width="7.2"/>
<rect x="815" y="175.8" width="30.5" height="31.5" fill="#fff" stroke="#008000" stroke-width="7.2"/>
<rect x="815" y="239.2" width="30.5" height="31.5" fill="#fff" stroke="#008000" stroke-width="7.2"/>
<rect x="815" y="214.2" width="30.5" height="31.5" fill="#fff" stroke="#008000" stroke-width="7.2"/>
<rect x="815" y="208.2" width="30.5" height="31.5" fill="#fff" stroke="#008000" stroke-width="7.2"/>
<rect x="912.5" y="269.8" width="30.5" height="31.5" fill="#fff" stroke="#008000" stroke-width="7.2"/>
<rect x="912.5" y="274.2" width="30.5" height="31.5" fill="#fff" stroke="#008000" stroke-width="7.2"/>
<rect x="912.5" y="307.2" width="30.5" height="31.5" fill="#fff" stroke="#008000" stroke-width="7.2"/>
<rect x="912.5" y="373" width="30.5" height="31.5" fill="#fff" stroke="#008000" stroke-width="7.2"/>
<rect x="1010.8" y="212.2" width="30.5" height="31.5" fill="#fff" stroke="#008000" stroke-width="7.2"/>
<rect x="1010.8" y="234.2" width="30.5" height="31.5" fill="#fff" stroke="#008000" stroke-width="7.2"/>
<rect x="1010.8" y="297.2" width="30.5" height="31.5" fill="#fff" stroke="#008000" stroke-width="7.2"/>
<rect x="1010.8" y="324.2" width="30.5" height="31.5" fill="#fff" stroke="#008000" stroke-width="7.2"/>
<rect x="1010.8" y="349.2" width="30.5" height="31.5" fill="#fff" stroke="#008000" stroke-width="7.2"/>
<rect x="1041" y="452.2" width="30.5" height="31.5" fill="#fff" stroke="#008000" stroke-width="7.2"/>
<rect x="1041" y="497.5" width="30.5" height="31.5" fill="#fff" stroke="#008000" stroke-width="7.2"/>
<rect x="1041" y="480.8" width="30.5" height="31.5" fill="#fff" stroke="#008000" stroke-width="7.2"/>
<rect x="1041" y="471.2" width="30.5" height="31.5" fill="#fff" stroke="#008000" stroke-width="7.2"/>
<rect x="1090.2" y="625.2" width="30.5" height="31.5" fill="#fff" stroke="#008000" stroke-width="7.2"/>
<rect x="1090.2" y="647.2" width="30.5" height="31.5" fill="#fff" stroke="#008000" stroke-width="7.2"/>
<rect x="1090.2" y="638.8" width="30.5" height="31.5" fill="#fff" stroke="#008000" stroke-width="7.2"/>
<rect x="1157.8" y="484.8" width="30.5" height="31.5" fill="#fff" stroke="#008000" stroke-width="7.2"/>
<rect x="1157.8" y="548.6" width="30.5" height="31.5" fill="#fff" stroke="#008000" stroke-width="7.2"/>
<rect x="1157.8" y="524" width="30.5" height="31.5" fill="#fff" stroke="#008000" stroke-width="7.2"/>
<rect x="1167.8" y="693.2" width="30.5" height="31.5" fill="#fff" stroke="#008000" stroke-width="7.2"/>
<rect x="1167.8" y="724.2" width="30.5" height="31.5" fill="#fff" stroke="#008000" stroke-width="7.2"/>
<rect x="1167.8" y="704.2" width="30.5" height="31.5" fill="#fff" stroke="#008000" stroke-width="7.2"/>
<rect x="1245.2" y="759.8" width="30.5" height="31.5" fill="#fff" stroke="#008000" stroke-width="7.2"/>
<rect x="1245.2" y="776.2" width="30.5" height="31.5" fill="#fff" stroke="#008000" stroke-width="7.2"/>
<rect x="1245.2" y="770.8" width="30.5" height="31.5" fill="#fff" stroke="#008000" stroke-width="7.2"/>
<rect x="1309" y="854.8" width="30.5" height="31.5" fill="#fff" stroke="#008000" stroke-width="7.2"/>
<rect x="1309" y="865.8" width="30.5" height="31.5" fill="#fff" stroke="#008000" stroke-width="7.2"/>
<rect x="1309" y="861.2" width="30.5" height="31.5" fill="#fff" stroke="#008000" stroke-width="7.2"/>
<rect x="1411.2" y="916.8" width="30.5" height="31.5" fill="#fff" stroke="#008000" stroke-width="7.2"/>
<rect x="1411.2" y="921.2" width="30.5" height="31.5" fill="#fff" stroke="#008000" stroke-width="7.2"/>
</g>
<g id="s-bluetri">
<path d="M263 345C269.2 341.2 288 328.5 300 322C312 315.5 323.8 310.5 335 306C346.2 301.5 356.7 297.8 367.5 295C378.3 292.2 387.3 288.4 400 289C412.7 289.6 428.3 290.2 443.8 298.8C459.2 307.2 480.6 329.8 492.5 340C504.4 350.2 505.5 349.6 515 360C524.5 370.4 539.7 389.5 549.7 402.5C559.7 415.5 561 418.6 575 438C589 457.4 611.7 487 634 519C656.3 551 690.2 603.2 709 630C727.8 656.8 731.9 659.6 746.5 680C761.1 700.4 779.8 730.8 796.5 752.5C813.2 774.2 831.9 794.6 846.5 810C861.1 825.4 871.5 834.6 884 845C896.5 855.4 909 864.2 921.5 872.5C934 880.8 946.5 888.3 959 895C971.5 901.7 984.7 907.3 996.5 912.5C1008.3 917.7 1017.8 922.4 1030 926C1042.2 929.6 1055 931.3 1070 934C1085 936.7 1101.7 939.3 1120 942C1138.3 944.7 1160 947.7 1180 950C1200 952.3 1219.3 954.3 1240 956C1260.7 957.7 1272 958 1304 960C1336 962 1410.7 966.7 1432 968" fill="none" stroke="#0000ff" stroke-width="8.5" stroke-linecap="butt" stroke-linejoin="round"/>
<polygon points="240.9,385.6 284.1,385.6 284.1,378.5 266.9,347.2 258.1,347.2 240.9,378.5" fill="#0000ff"/><polygon points="251.5,377 273.5,377 262.5,358.4" fill="#fff"/>
<polygon points="240.9,349 284.1,349 284.1,341.9 266.9,310.6 258.1,310.6 240.9,341.9" fill="#0000ff"/><polygon points="251.5,340.4 273.5,340.4 262.5,321.8" fill="#fff"/>
<polygon points="240.9,366.2 284.1,366.2 284.1,359.1 266.9,327.9 258.1,327.9 240.9,359.1" fill="#0000ff"/><polygon points="251.5,357.6 273.5,357.6 262.5,339" fill="#fff"/>
<polygon points="301.2,351.2 344.4,351.2 344.4,344.1 327.2,312.9 318.4,312.9 301.2,344.1" fill="#0000ff"/><polygon points="311.8,342.6 333.8,342.6 322.8,324" fill="#fff"/>
<polygon points="301.2,345.5 344.4,345.5 344.4,338.4 327.2,307.1 318.4,307.1 301.2,338.4" fill="#0000ff"/><polygon points="311.8,336.9 333.8,336.9 322.8,318.3" fill="#fff"/>
<polygon points="399.6,360.6 442.9,360.6 442.9,353.5 425.6,322.2 416.9,322.2 399.6,353.5" fill="#0000ff"/><polygon points="410.2,352 432.2,352 421.2,333.4" fill="#fff"/>
<polygon points="399.6,333.8 442.9,333.8 442.9,326.6 425.6,295.4 416.9,295.4 399.6,326.6" fill="#0000ff"/><polygon points="410.2,325.1 432.2,325.1 421.2,306.5" fill="#fff"/>
<polygon points="399.6,322 442.9,322 442.9,314.9 425.6,283.6 416.9,283.6 399.6,314.9" fill="#0000ff"/><polygon points="410.2,313.4 432.2,313.4 421.2,294.8" fill="#fff"/>
<polygon points="493.4,355 536.6,355 536.6,347.9 519.4,316.6 510.6,316.6 493.4,347.9" fill="#0000ff"/><polygon points="504,346.4 526,346.4 515,327.8" fill="#fff"/>
<polygon points="493.4,421.2 536.6,421.2 536.6,414.1 519.4,382.9 510.6,382.9 493.4,414.1" fill="#0000ff"/><polygon points="504,412.6 526,412.6 515,394" fill="#fff"/>
<polygon points="493.4,409.5 536.6,409.5 536.6,402.4 519.4,371.1 510.6,371.1 493.4,402.4" fill="#0000ff"/><polygon points="504,400.9 526,400.9 515,382.3" fill="#fff"/>
<polygon points="493.4,399.5 536.6,399.5 536.6,392.4 519.4,361.1 510.6,361.1 493.4,392.4" fill="#0000ff"/><polygon points="504,390.9 526,390.9 515,372.3" fill="#fff"/>
<polygon points="717.4,682.5 760.6,682.5 760.6,675.4 743.4,644.1 734.6,644.1 717.4,675.4" fill="#0000ff"/><polygon points="728,673.9 750,673.9 739,655.3" fill="#fff"/>
<polygon points="717.4,664.5 760.6,664.5 760.6,657.4 743.4,626.1 734.6,626.1 717.4,657.4" fill="#0000ff"/><polygon points="728,655.9 750,655.9 739,637.3" fill="#fff"/>
<polygon points="717.4,653 760.6,653 760.6,645.9 743.4,614.6 734.6,614.6 717.4,645.9" fill="#0000ff"/><polygon points="728,644.4 750,644.4 739,625.8" fill="#fff"/>
<polygon points="900.1,912 943.4,912 943.4,904.9 926.1,873.6 917.4,873.6 900.1,904.9" fill="#0000ff"/><polygon points="910.8,903.4 932.8,903.4 921.8,884.8" fill="#fff"/>
<polygon points="1030.4,949 1073.6,949 1073.6,941.9 1056.4,910.6 1047.6,910.6 1030.4,941.9" fill="#0000ff"/><polygon points="1041,940.4 1063,940.4 1052,921.8" fill="#fff"/>
<polygon points="1170.4,970 1213.6,970 1213.6,962.9 1196.4,931.6 1187.6,931.6 1170.4,962.9" fill="#0000ff"/><polygon points="1181,961.4 1203,961.4 1192,942.8" fill="#fff"/>
<polygon points="1317.4,974 1360.6,974 1360.6,966.9 1343.4,935.6 1334.6,935.6 1317.4,966.9" fill="#0000ff"/><polygon points="1328,965.4 1350,965.4 1339,946.8" fill="#fff"/>
<polygon points="1439,974 1482.2,974 1482.2,966.9 1465,935.6 1456.2,935.6 1439,966.9" fill="#0000ff"/><polygon points="1449.6,965.4 1471.6,965.4 1460.6,946.8" fill="#fff"/>
</g>
<g id="labels" font-size="74" text-anchor="middle">
<text x="262" y="1107">0.0</text>
<text x="495" y="1107">0.5</text>
<text x="730.5" y="1107">1.0</text>
<text x="963" y="1107">1.5</text>
<text x="1196" y="1107">2.0</text>
<text x="1428" y="1107">2.5</text>
<text x="182" y="169">5</text>
<text x="182" y="349">4</text>
<text x="182" y="529">3</text>
<text x="182" y="709.5">2</text>
<text x="182" y="890">1</text>
</g>
<text x="895.5" y="1203" font-size="82" text-anchor="middle">[GTC], M</text>
<text transform="translate(80 502) rotate(-90)" font-size="82" text-anchor="middle" xml:space="preserve">Parameter  <tspan font-style="italic">A</tspan></text>
</svg>
</body>
</html>
